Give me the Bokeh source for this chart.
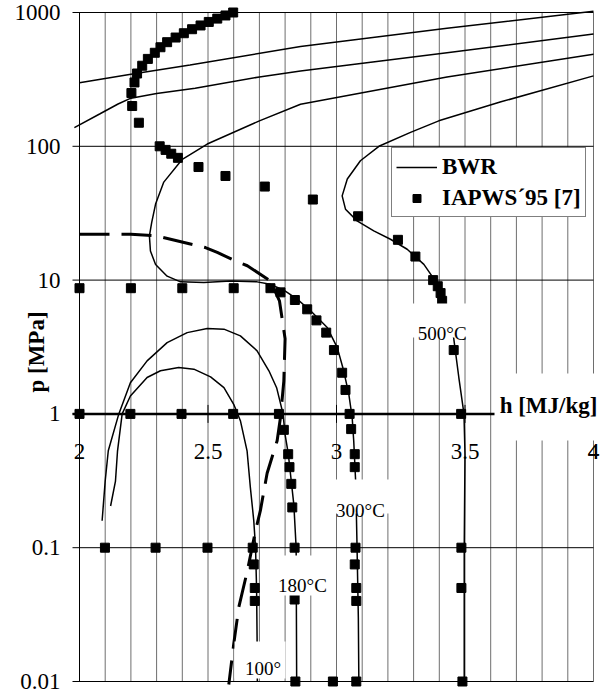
import numpy as np
from bokeh.plotting import figure
from bokeh.models import Label, Legend, LegendItem, Range1d, BoxAnnotation
from bokeh.core.properties import value
from bokeh.embed import file_html
from bokeh.resources import INLINE

# ---------------- data ----------------
x_ticks = [2, 2.5, 3, 3.5, 4]
x_tick_labels = ["2", "2.5", "3", "3.5", "4"]
x_grid = [2.0, 2.1, 2.2, 2.3, 2.4, 2.5, 2.6, 2.7, 2.8, 2.9, 3.0,
          3.1, 3.2, 3.3, 3.4, 3.5, 3.6, 3.7, 3.8, 3.9, 4.0]
y_ticks = [0.01, 0.1, 1, 10, 100, 1000]
y_tick_labels = ["0.01", "0.1", "1", "10", "100", "1000"]

# BWR isotherms (solid)
bwr_top1_h = [2.0, 2.2, 2.43, 2.86, 3.43, 4.0]
bwr_top1_p = [299, 345, 405, 558, 762, 1020]

bwr_top2_h = [1.98, 2.08, 2.15, 2.20, 2.30, 2.45, 2.70, 2.86, 3.43, 4.0]
bwr_top2_p = [138, 175, 207, 229, 248, 272, 330, 366, 500, 690]

bwr_300_h = [4.0, 3.43, 2.86, 2.70, 2.497, 2.40, 2.328, 2.296, 2.281, 2.272, 2.276, 2.296,
             2.341, 2.393, 2.484, 2.588, 2.691, 2.743, 2.795, 2.847, 2.899, 2.964, 3.003,
             3.028, 3.048, 3.061, 3.067, 3.075, 3.08, 3.085, 3.087]
bwr_300_p = [488, 330, 206, 155, 104, 80, 54, 37, 27, 21.4, 16.5, 13.1,
             10.7, 9.7, 9.6, 9.86, 9.7, 9.3, 8.4, 7.2, 5.9, 4.42, 3.13,
             2.1, 1.4, 0.94, 0.63, 0.3, 0.1, 0.03, 0.01]

bwr_500_h = [4.0, 3.64, 3.398, 3.288, 3.165, 3.093, 3.042, 3.022, 3.035, 3.08, 3.145, 3.21,
             3.275, 3.34, 3.379, 3.411, 3.42, 3.44, 3.456, 3.476, 3.496, 3.50, 3.497, 3.497]
bwr_500_p = [336, 215, 155, 127, 100, 78, 57, 42.6, 33.9, 27.7, 23.3, 20.2,
             17.0, 13.1, 10.2, 7.4, 6.5, 5.0, 3.68, 1.87, 1.0, 0.5, 0.1, 0.01]

bwr_180_h = [2.088, 2.10, 2.112, 2.153, 2.198, 2.263, 2.341, 2.419, 2.497, 2.562, 2.626,
             2.691, 2.737, 2.767, 2.792, 2.80, 2.812, 2.834, 2.843, 2.845]
bwr_180_p = [0.159, 0.315, 0.53, 1.0, 1.71, 2.49, 3.41, 4.05, 4.34, 4.30, 3.83,
             2.96, 2.1, 1.57, 1.0, 0.70, 0.51, 0.21, 0.1, 0.01]

bwr_100_h = [2.121, 2.14, 2.148, 2.166, 2.198, 2.263, 2.315, 2.386, 2.445, 2.51, 2.562,
             2.60, 2.626, 2.652, 2.665, 2.678, 2.685, 2.689, 2.691, 2.692]
bwr_100_p = [0.205, 0.315, 0.53, 1.0, 1.36, 1.87, 2.1, 2.22, 2.16, 1.89, 1.57,
             1.18, 0.89, 0.53, 0.28, 0.16, 0.1, 0.05, 0.021, 0.01]

# saturation line (dashed)
sat_h = [2.0, 2.2, 2.3, 2.49, 2.536, 2.607, 2.653, 2.743, 2.778, 2.80, 2.795, 2.782,
         2.769, 2.73, 2.704, 2.685, 2.653, 2.62, 2.60, 2.581]
sat_p = [22.0, 22.0, 21.4, 17.5, 16.1, 13.9, 12.8, 9.86, 7.0, 3.64, 1.76, 0.94,
         0.63, 0.36, 0.19, 0.134, 0.067, 0.036, 0.019, 0.0095]

# IAPWS-95 points (squares)
iap_100_h = [2.099, 2.296, 2.498, 2.674, 2.678, 2.682, 2.682]
iap_100_p = [0.1, 0.1, 0.1, 0.1, 0.075, 0.05, 0.04]

iap_180_h = [2.0, 2.198, 2.397, 2.598, 2.776, 2.795, 2.812, 2.817, 2.824, 2.828, 2.837, 2.837, 2.84]
iap_180_p = [1.0, 1.0, 1.0, 1.0, 1.0, 0.76, 0.5, 0.4, 0.3, 0.2, 0.1, 0.041, 0.01]

iap_300_h = [2.0, 2.2, 2.4, 2.6, 2.743, 2.782, 2.838, 2.886, 2.922, 2.96, 2.99, 3.022, 3.035,
             3.051, 3.057, 3.071, 3.071, 3.074, 3.071, 3.077, 3.077, 3.077]
iap_300_p = [8.7, 8.7, 8.7, 8.7, 8.7, 8.1, 7.1, 6.05, 5.0, 4.05, 3.0, 2.03, 1.51,
             1.0, 0.77, 0.5, 0.4, 0.1, 0.075, 0.05, 0.04, 0.01]

iap_500_h = [2.598, 2.568, 2.536, 2.503, 2.471, 2.438, 2.406, 2.374, 2.341, 2.315, 2.293, 2.266,
             2.244, 2.224, 2.214, 2.202, 2.205, 2.231, 2.312, 2.335, 2.357, 2.383, 2.463, 2.568,
             2.721, 2.908, 3.084, 3.239, 3.307, 3.376, 3.394, 3.405, 3.411, 3.456, 3.485, 3.486,
             3.486, 3.49]
iap_500_p = [1000, 950, 900, 850, 800, 750, 700, 650, 600, 550, 500, 450,
             400, 350, 300, 250, 200, 150, 100, 94, 88, 82, 70, 60,
             50, 40, 30, 20, 15, 10, 9, 8, 7, 3, 1, 0.1,
             0.05, 0.01]

iap_extra_h = [2.986]
iap_extra_p = [0.01]

# ---------------- layout constants (pixels) ----------------
W, H = 600, 695
LEFT_PX, RIGHT_PX = 79, 593        # h = 2 and h = 4
TOP_PX, BOTTOM_PX = 12, 681        # p = 1000 and p = 0.01
px_per_h = (RIGHT_PX - LEFT_PX) / (x_ticks[-1] - x_ticks[0])
px_per_dec = (BOTTOM_PX - TOP_PX) / (np.log10(y_ticks[-1]) - np.log10(y_ticks[0]))


def hx(px):
    return x_ticks[0] + (px - LEFT_PX) / px_per_h


def py(px):
    return 10 ** (np.log10(y_ticks[-1]) - (px - TOP_PX) / px_per_dec)


tick_len = 7 / px_per_h
SERIF = "Liberation Serif"

p = figure(width=W, height=H, x_range=Range1d(hx(0), hx(W)), y_range=Range1d(py(H), py(0)),
           y_axis_type="log", x_axis_location=None, y_axis_location=None, title=None,
           output_backend="svg", toolbar_location=None,
           min_border_left=0, min_border_right=0, min_border_top=0, min_border_bottom=0)
p.background_fill_color = "white"
p.border_fill_color = "white"
p.outline_line_color = None
p.grid.visible = False

# grid
ymin, ymax = y_ticks[0], y_ticks[-1]
p.segment(x0=x_grid, y0=[ymin] * len(x_grid), x1=x_grid, y1=[ymax] * len(x_grid),
          line_color="#6e6e6e", line_width=1)
p.segment(x0=[x_ticks[0] - tick_len] * len(y_ticks), y0=y_ticks,
          x1=[x_ticks[-1]] * len(y_ticks), y1=y_ticks, line_color="black", line_width=1)
# y axis line
p.line([x_ticks[0], x_ticks[0]], [ymin, ymax], line_color="black", line_width=1)
# y tick labels
p.text(x=[x_ticks[0]] * len(y_ticks), y=y_ticks, text=y_tick_labels, x_offset=-19,
       text_align="right", text_baseline="middle", text_font=value(SERIF),
       text_font_size=value("23px"), text_color="black")
# y axis title
p.text(x=[hx(35.5)], y=[py(351.5)], text=["p [MPa]"], angle=np.pi / 2,
       text_align="center", text_baseline="middle", text_font=value(SERIF),
       text_font_size=value("23px"), text_font_style="bold", text_color="black")

# x axis at p = 1
p.line([x_ticks[0] - tick_len, x_ticks[-1]], [1, 1], line_color="black", line_width=2.5)
p.scatter(x_ticks, [1] * len(x_ticks), marker="dash", angle=np.pi / 2, size=18,
          line_color="black", line_width=1)
p.text(x=x_ticks, y=[1] * len(x_ticks), text=x_tick_labels, y_offset=30,
       text_align="center", text_baseline="top", text_font=value(SERIF),
       text_font_size=value("23px"), text_color="black")

# BWR lines
lw = 1.5
r_bwr = p.line(bwr_top1_h, bwr_top1_p, line_color="black", line_width=lw)
p.line(bwr_top2_h, bwr_top2_p, line_color="black", line_width=lw)
p.line(bwr_300_h, bwr_300_p, line_color="black", line_width=lw)
p.line(bwr_500_h, bwr_500_p, line_color="black", line_width=lw)
p.line(bwr_180_h, bwr_180_p, line_color="black", line_width=lw)
p.line(bwr_100_h, bwr_100_p, line_color="black", line_width=lw)

# saturation line
p.line(sat_h, sat_p, line_color="black", line_width=3, line_dash="30 12")

# IAPWS squares
all_h = iap_100_h + iap_180_h + iap_300_h + iap_500_h + iap_extra_h
all_p = iap_100_p + iap_180_p + iap_300_p + iap_500_p + iap_extra_p
r_sq = p.scatter(all_h, all_p, marker="square", size=9, fill_color="black", line_color="black")


# labels with white boxes (box edges and text anchor given in page pixels)
def tag(txt, box, cx, base, size="19px", bold=False):
    l, r, t, b = box
    p.add_layout(BoxAnnotation(left=hx(l), right=hx(r), top=py(t), bottom=py(b),
                               fill_color="white", fill_alpha=1, line_color=None))
    p.add_layout(Label(x=hx(cx), y=py(base), text=txt, text_align="center",
                       text_baseline="alphabetic", text_font=SERIF, text_font_size=size,
                       text_font_style="bold" if bold else "normal", text_color="black"))


tag("500°C", (411, 467, 303, 337), 441.7, 333)
tag("300°C", (333, 391, 479, 513), 360, 510)
tag("180°C", (275, 330, 555, 595), 302, 585)
tag("100°", (234, 285, 641, 678), 262.5, 668)
tag("h [MJ/kg]", (494, 599, 373, 440), 548, 405, size="23px", bold=True)

# the "4" tick label sits on top of the title box
p.add_layout(Label(x=x_ticks[-1], y=1, y_offset=-30, text=x_tick_labels[-1], text_align="center",
                   text_baseline="top", text_font=SERIF, text_font_size="23px",
                   text_color="black"))

legend = Legend(items=[LegendItem(label="BWR", renderers=[r_bwr]),
                       LegendItem(label="IAPWS´95 [7]", renderers=[r_sq])],
                location=(391, H - 217), orientation="vertical")
legend.label_text_font = SERIF
legend.label_text_font_size = "23px"
legend.label_text_font_style = "bold"
legend.label_text_color = "black"
legend.border_line_color = "black"
legend.border_line_width = 1
legend.background_fill_color = "white"
legend.background_fill_alpha = 1
legend.glyph_width = 41
legend.glyph_height = 20
legend.label_height = 29
legend.label_standoff = 5
legend.padding = 4
legend.spacing = 2
legend.margin = 0
p.add_layout(legend)

open("out.html", "w").write(file_html(p, INLINE))
